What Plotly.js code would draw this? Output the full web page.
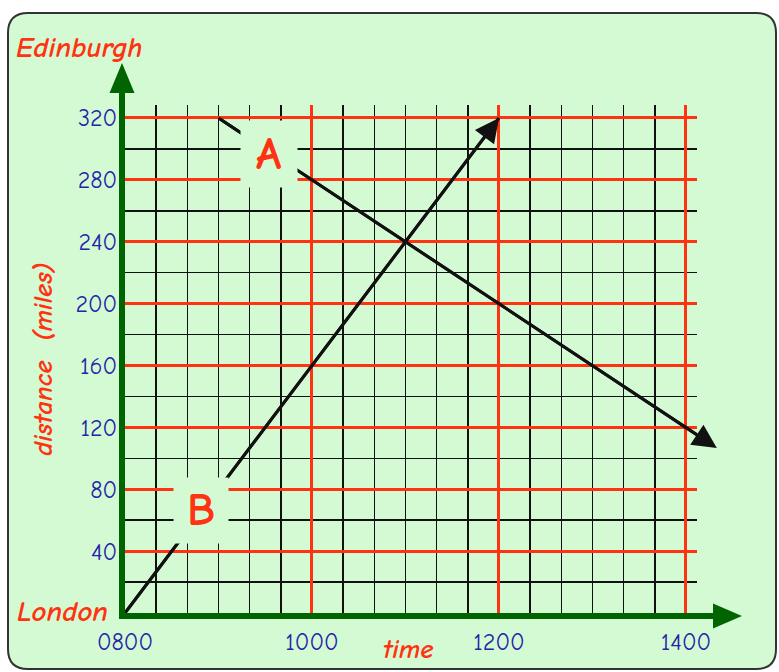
<!DOCTYPE html>
<html>
<head>
<meta charset="utf-8">
<script src="https://cdn.plot.ly/plotly-3.0.1.min.js"></script>
<style>
  html, body { margin: 0; padding: 0; background: #ffffff; }
  #chart { width: 779px; height: 672px; }
</style>
</head>
<body>
<div id="chart"></div>
<script>
// Two journeys between London (0 miles) and Edinburgh (320 miles).
// Time is in hours of the day, distance is measured from London.
const timeA = [9, 14.33];
const distA = [320, 106.7];
const timeB = [8, 12];
const distB = [0, 320];

const xTickVals = [8, 10, 12, 14];
const xTickText = ['0800', '1000', '1200', '1400'];
const yTickVals = [40, 80, 120, 160, 200, 240, 280, 320];

const BG = '#d4fad4';
const RED = '#ff3311';
const BLUE = '#2424a8';
const GREEN = '#006400';
const INK = '#111111';
const FONT = '"Comic Sans MS", "Comic Neue", "DejaVu Sans", sans-serif';

function journey(xs, ys) {
  return {
    type: 'scatter',
    mode: 'lines',
    x: xs,
    y: ys,
    line: { color: INK, width: 3 },
    hoverinfo: 'skip',
    showlegend: false
  };
}

// arrow running along a journey, so the head can sit past the plot edge
function journeyArrow(xs, ys) {
  return {
    text: '', showarrow: true,
    xref: 'x', yref: 'y', axref: 'x', ayref: 'y',
    x: xs[xs.length - 1], y: ys[ys.length - 1],
    ax: xs[0], ay: ys[0],
    arrowhead: 2, arrowsize: 1.6, arrowwidth: 3, arrowcolor: INK,
    standoff: 0, startstandoff: 0
  };
}

const data = [journey(timeA, distA), journey(timeB, distB)];

const titleFont = { family: FONT, size: 29, color: RED, weight: 'bold', style: 'italic' };
const letterFont = { family: FONT, size: 46, color: RED, weight: 'bold' };

const layout = {
  width: 779,
  height: 672,
  margin: { l: 125, r: 82, t: 105, b: 59 },
  paper_bgcolor: '#ffffff',
  plot_bgcolor: 'rgba(0,0,0,0)',
  showlegend: false,
  xaxis: {
    range: [8, 14.118],
    tickmode: 'array',
    tickvals: xTickVals,
    ticktext: xTickText,
    ticks: '',
    ticklabelstandoff: 2,
    showgrid: true,
    gridcolor: RED,
    gridwidth: 3,
    minor: { tickmode: 'linear', tick0: 8, dtick: 1 / 3, showgrid: true, gridcolor: INK, gridwidth: 1.6 },
    showline: true,
    linecolor: GREEN,
    linewidth: 6,
    zeroline: false,
    tickfont: { family: FONT, size: 24, color: BLUE },
    fixedrange: true
  },
  yaxis: {
    range: [0, 328.4],
    tickmode: 'array',
    tickvals: yTickVals,
    ticks: '',
    ticklabelstandoff: -3,
    showgrid: true,
    gridcolor: RED,
    gridwidth: 3,
    minor: { tickmode: 'linear', tick0: 0, dtick: 20, showgrid: true, gridcolor: INK, gridwidth: 1.6 },
    showline: true,
    linecolor: GREEN,
    linewidth: 6,
    zeroline: false,
    tickfont: { family: FONT, size: 24, color: BLUE },
    fixedrange: true
  },
  shapes: [
    // rounded green card behind the chart
    {
      type: 'path', layer: 'below',
      xref: 'paper', yref: 'paper', xsizemode: 'pixel', ysizemode: 'pixel', xanchor: 0, yanchor: 0,
      path: 'M -97,600 L 631,600 Q 651,600 651,580 L 651,-36 Q 651,-56 631,-56 L -97,-56 Q -117,-56 -117,-36 L -117,580 Q -117,600 -97,600 Z',
      fillcolor: BG,
      line: { color: '#333333', width: 2 }
    },
    // arrow head on the distance axis
    {
      type: 'path', layer: 'above',
      xref: 'paper', yref: 'paper', xsizemode: 'pixel', ysizemode: 'pixel', xanchor: 0, yanchor: 0,
      path: 'M -6,506 L 0,506 L 0,520 L 9.5,520 L -3,550 L -15.5,520 L -6,520 Z',
      fillcolor: GREEN,
      line: { width: 0 }
    },
    // arrow head on the time axis
    {
      type: 'path', layer: 'above',
      xref: 'paper', yref: 'paper', xsizemode: 'pixel', ysizemode: 'pixel', xanchor: 0, yanchor: 0,
      path: 'M 570,0 L 588,0 L 588,9.5 L 617,-3 L 588,-15.5 L 588,-6 L 570,-6 Z',
      fillcolor: GREEN,
      line: { width: 0 }
    }
  ],
  annotations: [
    journeyArrow(timeA, distA),
    journeyArrow(timeB, distB),
    { text: 'Edinburgh', xref: 'paper', yref: 'paper', x: -0.194, y: 1.114, xanchor: 'left', yanchor: 'middle', showarrow: false, font: titleFont },
    { text: 'London', xref: 'paper', yref: 'paper', x: -0.192, y: 0.002, xanchor: 'left', yanchor: 'middle', showarrow: false, font: titleFont },
    { text: 'distance  (miles)', xref: 'paper', yref: 'paper', x: -0.1434, y: 0.5, xanchor: 'center', yanchor: 'middle', textangle: -90, showarrow: false, font: Object.assign({}, titleFont, { size: 27 }) },
    { text: 'time', xref: 'paper', yref: 'paper', x: 0.4965, y: -0.0728, xanchor: 'center', yanchor: 'middle', showarrow: false, font: Object.assign({}, titleFont, { size: 27 }) },
    { text: 'A', xref: 'x', yref: 'y', x: 9.54, y: 296.7, width: 56, height: 66, borderpad: 0, bgcolor: BG, showarrow: false, font: letterFont },
    { text: 'B', xref: 'x', yref: 'y', x: 8.81, y: 66.3, width: 54, height: 65, borderpad: 0, bgcolor: BG, showarrow: false, font: letterFont }
  ]
};

Plotly.newPlot('chart', data, layout, { displayModeBar: false, staticPlot: true });
</script>
</body>
</html>
